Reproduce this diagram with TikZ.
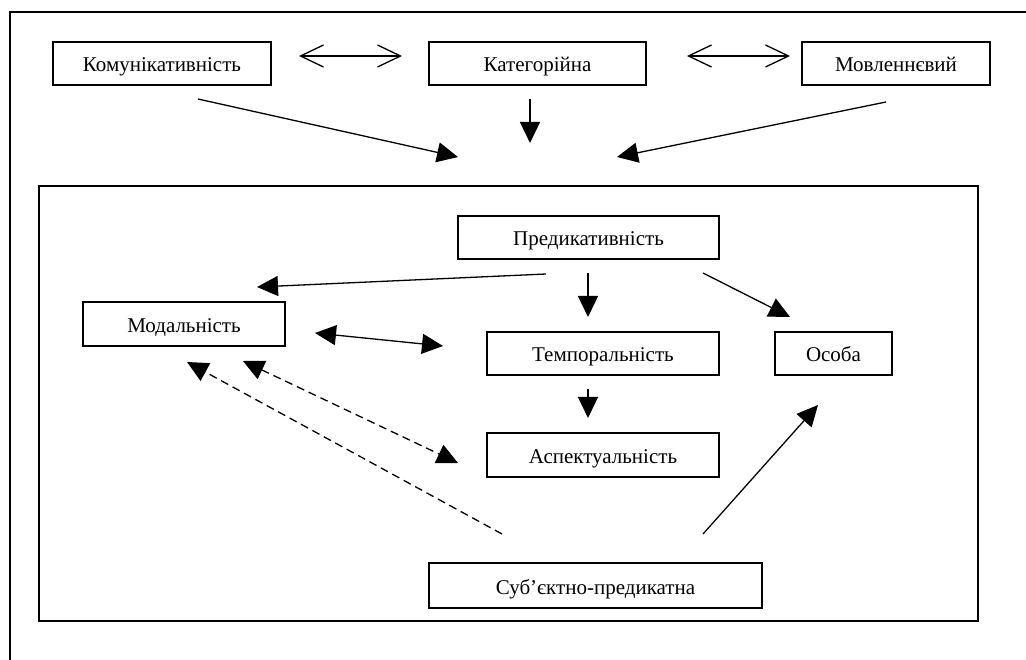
\documentclass[tikz,border=0pt]{standalone}
\usepackage{fontspec}
\setmainfont{Liberation Serif}
\usetikzlibrary{arrows.meta}
\begin{document}
\begin{tikzpicture}[x=1pt,y=-1pt,
  box/.style={draw, line width=1.7pt, inner sep=0pt, minimum height=43pt,
    text height=17pt, text depth=0pt, font=\fontsize{21}{25}\selectfont},
  frame/.style={line width=1.7pt},
  conn/.style={line width=1.3pt, -{Triangle[length=21pt,width=20pt]}},
  bconn/.style={line width=1.3pt, {Triangle[length=21pt,width=20pt]}-{Triangle[length=21pt,width=20pt]}},
  dconn/.style={line width=1.3pt, dash pattern=on 8pt off 5pt},
  openboth/.style={line width=1.3pt, {Straight Barb[length=23pt,width=22pt]}-{Straight Barb[length=23pt,width=22pt]}}]
\useasboundingbox (0,0) rectangle (1026,660);
% frames
\draw[frame] (1026,12) -- (10,12) -- (10,660);
\draw[frame] (39,186) rectangle (978,621);
% top row
\node[box, minimum width=218pt] (kom) at (162,63.5) {Комунікативність};
\node[box, minimum width=217pt] (kat) at (537.5,63.5) {Категорійна};
\node[box, minimum width=188pt] (mov) at (896,63.5) {Мовленнєвий};
% inner nodes
\node[box, minimum width=261pt] (pred) at (588.5,237.5) {Предикативність};
\node[box, minimum width=202pt, minimum height=44pt] (mod) at (184,324) {Модальність};
\node[box, minimum width=232pt] (temp) at (603,353.5) {Темпоральність};
\node[box, minimum width=117pt] (osoba) at (833.5,353.5) {Особа};
\node[box, minimum width=232pt, minimum height=44pt] (asp) at (603,455) {Аспектуальність};
\node[box, minimum width=333pt, minimum height=45pt] (sub) at (595.5,585.5) {Суб’єктно-предикатна};
% connector end points
\coordinate (d1a) at (299,56); \coordinate (d1b) at (402,56);
\coordinate (d2a) at (687,56); \coordinate (d2b) at (790,56);
\coordinate (a1s) at (198,99);  \coordinate (a1e) at (458,157);
\coordinate (a2s) at (530,99);  \coordinate (a2e) at (530,143);
\coordinate (a3s) at (886,102); \coordinate (a3e) at (617,157);
\coordinate (b1s) at (546,274); \coordinate (b1e) at (257,287);
\coordinate (b2s) at (588,273); \coordinate (b2e) at (588,317);
\coordinate (b3s) at (703,273); \coordinate (b3e) at (790,317);
\coordinate (b4s) at (315,333); \coordinate (b4e) at (443,346);
\coordinate (b5s) at (588,389); \coordinate (b5e) at (588,418);
\coordinate (b6s) at (243,361); \coordinate (b6e) at (458,463);
\coordinate (b7s) at (502,534); \coordinate (b7e) at (187,362);
\coordinate (b8s) at (703,534); \coordinate (b8e) at (818,405);
% connectors
\draw[openboth] (d1a) -- (d1b);
\draw[openboth] (d2a) -- (d2b);
\draw[conn] (a1s) -- (a1e);
\draw[conn] (a2s) -- (a2e);
\draw[conn] (a3s) -- (a3e);
\draw[conn] (b1s) -- (b1e);
\draw[conn] (b2s) -- (b2e);
\draw[conn] (b3s) -- (b3e);
\draw[bconn] (b4s) -- (b4e);
\draw[conn] (b5s) -- (b5e);
\draw[dconn, {Triangle[length=21pt,width=20pt]}-{Triangle[length=21pt,width=20pt]}] (b6s) -- (b6e);
\draw[dconn, -{Triangle[length=21pt,width=20pt]}] (b7s) -- (b7e);
\draw[conn] (b8s) -- (b8e);
\end{tikzpicture}
\end{document}
